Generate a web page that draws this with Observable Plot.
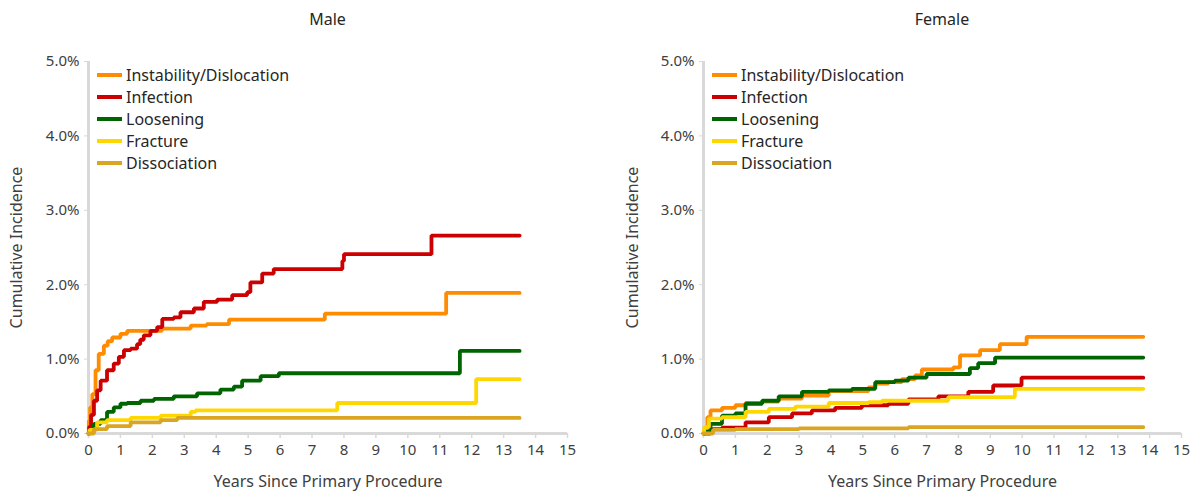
<!DOCTYPE html>
<html><head><meta charset="utf-8">
<script src="https://cdn.jsdelivr.net/npm/d3@7"></script>
<script src="https://cdn.jsdelivr.net/npm/@observablehq/plot@0.6"></script>
<style>
body{margin:0;background:#fff;font-family:"Noto Sans",sans-serif;}
#wrap{display:flex;width:1200px;height:498px;overflow:hidden;}
.panel{position:relative;width:600px;height:498px;}
.title{position:absolute;top:0;height:36px;line-height:38px;text-align:center;font-size:16px;color:#262626;}
.plot{position:absolute;top:36px;left:0;}
.legend{position:absolute;font-size:16px;color:#262626;}
.legend .row{position:absolute;white-space:nowrap;height:22px;line-height:22px;}
.legend .sw{position:absolute;left:0;top:9px;width:25px;height:4px;}
.legend .lbl{position:absolute;left:29px;top:0px;}
.plot g[aria-label="x-axis label"] text, .plot g[aria-label="y-axis label"] text{font-size:16px;}
</style>
</head><body>
<div id="wrap"></div>
<script>
const seriesNames = ["Instability/Dislocation","Infection","Loosening","Fracture","Dissociation"];
const seriesColors = ["#FF8C00","#CC0000","#006400","#FFD700","#DAA520"];
const xTicks = [0,1,2,3,4,5,6,7,8,9,10,11,12,13,14,15];
const yTicks = [0,1,2,3,4,5];

// Male: [years, cumulative incidence %]
const maleInstability = [[0,0],[0.01,0.17],[0.05,0.35],[0.12,0.53],[0.22,0.85],[0.32,1.07],[0.48,1.18],[0.6,1.24],[0.74,1.29],[1.0,1.34],[1.21,1.38],[2.3,1.41],[3.2,1.45],[3.7,1.47],[4.4,1.53],[7.4,1.61],[11.2,1.89],[13.5,1.89]];
const maleInfection = [[0,0],[0.02,0.09],[0.08,0.25],[0.17,0.44],[0.27,0.58],[0.38,0.71],[0.58,0.85],[0.79,0.94],[0.95,1.03],[1.11,1.12],[1.32,1.14],[1.52,1.2],[1.62,1.26],[1.73,1.32],[1.94,1.38],[2.15,1.43],[2.31,1.54],[2.67,1.56],[2.88,1.63],[3.3,1.68],[3.61,1.77],[4.03,1.8],[4.5,1.86],[4.97,1.9],[5.07,2.03],[5.44,2.15],[5.8,2.21],[7.95,2.32],[8.0,2.41],[10.74,2.66],[13.5,2.66]];
const maleLoosening = [[0,0],[0.05,0.02],[0.17,0.13],[0.38,0.18],[0.58,0.29],[0.79,0.35],[1.0,0.40],[1.21,0.41],[1.63,0.44],[2.05,0.465],[2.67,0.5],[3.4,0.54],[4.13,0.59],[4.55,0.63],[4.81,0.71],[5.39,0.77],[5.96,0.81],[11.63,1.11],[13.5,1.11]];
const maleFracture = [[0,0],[0.03,0.05],[0.27,0.15],[0.58,0.18],[1.32,0.21],[2.26,0.24],[3.2,0.29],[3.35,0.31],[7.79,0.41],[12.14,0.73],[13.5,0.73]];
const maleDissociation = [[0,0],[0.17,0.06],[0.58,0.10],[1.32,0.15],[2.26,0.18],[2.78,0.21],[13.5,0.21]];

// Female
const femaleInstability = [[0,0],[0.03,0.04],[0.12,0.22],[0.22,0.31],[0.58,0.345],[1.0,0.38],[1.32,0.41],[1.84,0.43],[2.36,0.47],[3.09,0.51],[3.93,0.57],[5.18,0.62],[5.39,0.67],[5.8,0.69],[6.22,0.73],[6.64,0.78],[6.85,0.86],[7.84,0.89],[8.05,1.05],[8.68,1.12],[9.3,1.2],[10.14,1.3],[13.8,1.3]];
const femaleInfection = [[0,0],[0.22,0.06],[0.58,0.08],[1.32,0.15],[2.05,0.22],[2.78,0.27],[3.4,0.31],[4.13,0.345],[4.97,0.38],[5.8,0.40],[6.43,0.46],[7.37,0.5],[8.31,0.56],[9.09,0.645],[9.98,0.75],[13.8,0.75]];
const femaleLoosening = [[0,0],[0.05,0.02],[0.22,0.13],[0.58,0.24],[1.0,0.27],[1.32,0.40],[1.84,0.44],[2.36,0.5],[3.09,0.56],[3.93,0.58],[4.66,0.6],[5.39,0.69],[6.0,0.71],[6.43,0.75],[7.0,0.8],[8.36,0.88],[8.62,0.945],[9.15,1.02],[13.8,1.02]];
const femaleFracture = [[0,0],[0.02,0.085],[0.17,0.2],[0.58,0.22],[1.32,0.29],[2.05,0.33],[2.88,0.36],[3.93,0.41],[5.18,0.42],[5.6,0.44],[7.68,0.49],[9.77,0.6],[13.8,0.6]];
const femaleDissociation = [[0,0],[0.3,0.05],[1.0,0.06],[3.0,0.07],[6.43,0.085],[13.8,0.085]];

const panels = [
  {title:"Male", series:[maleInstability,maleInfection,maleLoosening,maleFracture,maleDissociation], ml:88, mr:33, yLabelOffset:78},
  {title:"Female", series:[femaleInstability,femaleInfection,femaleLoosening,femaleFracture,femaleDissociation], ml:103, mr:19, yLabelOffset:77}
];

const wrap = document.getElementById("wrap");
for (const p of panels) {
  const panel = document.createElement("div");
  panel.className = "panel";
  const title = document.createElement("div");
  title.className = "title";
  title.textContent = p.title;
  title.style.left = p.ml + "px";
  title.style.width = (600 - p.ml - p.mr) + "px";
  panel.appendChild(title);

  const rows = [];
  p.series.forEach((s, i) => s.forEach(([t, v]) => rows.push({t, v, name: seriesNames[i]})));

  const chart = Plot.plot({
    width: 600, height: 462,
    marginLeft: p.ml, marginRight: p.mr, marginTop: 25, marginBottom: 65,
    style: {fontFamily: '"Noto Sans", sans-serif', fontSize: "15px", color: "#404040", background: "#fff"},
    x: {domain: [0, 15]},
    y: {domain: [0, 5]},
    color: {domain: seriesNames, range: seriesColors},
    marks: [
      Plot.axisX({ticks: xTicks, tickSize: 5, tickPadding: 6, stroke: "#d9d9d9", strokeWidth: 1.5, fill: "#404040",
        label: "Years Since Primary Procedure", labelAnchor: "center", labelArrow: "none", labelOffset: 53}),
      Plot.axisY({ticks: yTicks, tickSize: 4, tickPadding: 5, stroke: "#d9d9d9", fill: "#404040",
        tickFormat: d => d.toFixed(1) + "%",
        label: "Cumulative Incidence", labelAnchor: "center", labelArrow: "none", labelOffset: p.yLabelOffset}),
      Plot.ruleY([0], {stroke: "#d9d9d9", strokeWidth: 3}),
      Plot.ruleX([0], {stroke: "#d9d9d9", strokeWidth: 3}),
      Plot.line(rows, {x: "t", y: "v", z: "name", stroke: "name", curve: "step-after", strokeWidth: 3.8, strokeLinejoin: "miter"})
    ]
  });
  chart.classList.add("plot");
  panel.appendChild(chart);

  const legend = document.createElement("div");
  legend.className = "legend";
  legend.style.left = (p.ml + 9) + "px";
  legend.style.top = "64px";
  seriesNames.forEach((n, i) => {
    const row = document.createElement("div");
    row.className = "row";
    row.style.top = (i * 22) + "px";
    row.innerHTML = `<div class="sw" style="background:${seriesColors[i]}"></div><div class="lbl">${n}</div>`;
    legend.appendChild(row);
  });
  panel.appendChild(legend);
  wrap.appendChild(panel);
}
</script>
</body></html>
